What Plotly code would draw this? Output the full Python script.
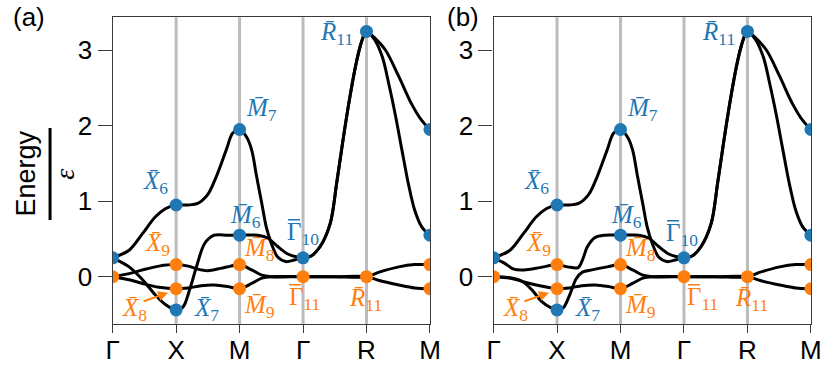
import plotly.graph_objects as go

# k-path: Γ - X - M - Γ - R - M, one unit per segment
K_TICKS = [0, 1, 2, 3, 4, 5]
K_LABELS = ["Γ", "X", "M", "Γ", "R", "M"]
E_TICKS = [0, 1, 2, 3]

# ---- panel (a) bands ----
KA_1 = [0, 0.26, 0.47, 0.67, 0.83, 1.0, 1.19, 1.34, 1.5, 1.63, 1.79, 1.89, 2.0, 2.11, 2.19, 2.27, 2.35, 2.42, 2.5,
        2.6, 2.73, 2.86, 3.0, 3.12, 3.27, 3.43, 3.53, 3.63, 3.73, 3.83, 3.9, 3.96, 4.0, 4.12, 4.3, 4.51, 4.71, 4.87, 5.0]
EA_1 = [0.25, 0.35, 0.57, 0.79, 0.9, 0.95, 0.95, 0.97, 1.09, 1.32, 1.68, 1.9, 1.95, 1.85, 1.68, 1.32, 0.97, 0.66, 0.44,
        0.26, 0.2, 0.22, 0.25, 0.27, 0.4, 0.71, 1.24, 1.81, 2.34, 2.8, 3.05, 3.2, 3.25, 3.17, 3.0, 2.65, 2.29, 2.07, 1.95]

KA_2 = [0, 0.26, 0.47, 0.67, 0.83, 1.0, 1.11, 1.21, 1.32, 1.45, 1.6, 1.81, 2.0, 2.29, 2.45, 2.6, 2.76, 2.91, 3.0,
        3.12, 3.27, 3.43, 3.53, 3.63, 3.73, 3.83, 3.9, 3.96, 4.0, 4.12, 4.25, 4.35, 4.46, 4.56, 4.66, 4.76, 4.87, 5.0]
EA_2 = [0.25, 0.13, -0.04, -0.24, -0.37, -0.44, -0.4, -0.18, 0.13, 0.44, 0.55, 0.55, 0.55, 0.55, 0.51, 0.4, 0.3, 0.26, 0.25,
        0.27, 0.4, 0.71, 1.24, 1.81, 2.34, 2.8, 3.05, 3.2, 3.25, 3.15, 2.91, 2.56, 2.12, 1.67, 1.23, 0.88, 0.66, 0.55]

KA_3 = [0, 0.26, 0.47, 0.73, 1.0, 1.19, 1.34, 1.5, 1.7, 1.86, 2.0, 2.19, 2.35, 2.5, 3.0, 3.5, 4.0, 4.2, 4.51, 4.76, 5.0]
EA_3 = [0, 0.04, 0.09, 0.14, 0.16, 0.14, 0.1, 0.08, 0.11, 0.14, 0.16, 0.09, 0.02, 0.0, 0, 0, 0, 0.06, 0.13, 0.16, 0.16]

KA_4 = [0, 0.26, 0.47, 0.73, 1.0, 1.19, 1.39, 1.6, 1.81, 2.0, 2.19, 2.35, 2.5, 3.0, 3.5, 4.0, 4.2, 4.51, 4.76, 5.0]
EA_4 = [0, -0.04, -0.09, -0.14, -0.16, -0.15, -0.12, -0.11, -0.13, -0.16, -0.09, -0.02, 0, 0, 0, 0, -0.05, -0.11, -0.15, -0.16]

# ---- panel (b) bands ----
KB_1 = KA_1
EB_1 = EA_1

KB_2 = [0, 0.17, 0.32, 0.48, 0.73, 1.0, 1.17, 1.33, 1.4, 1.48, 1.6, 1.75, 2.0, 2.29, 2.45, 2.6, 2.76, 2.91, 3.0,
        3.12, 3.27, 3.43, 3.53, 3.63, 3.73, 3.83, 3.9, 3.96, 4.0, 4.12, 4.25, 4.35, 4.46, 4.56, 4.66, 4.76, 4.87, 5.0]
EB_2 = [0.25, 0.18, 0.1, 0.09, 0.12, 0.16, 0.13, 0.12, 0.22, 0.4, 0.52, 0.55, 0.55, 0.55, 0.51, 0.4, 0.3, 0.26, 0.25,
        0.27, 0.4, 0.71, 1.24, 1.81, 2.34, 2.8, 3.05, 3.2, 3.25, 3.15, 2.91, 2.56, 2.12, 1.67, 1.23, 0.88, 0.66, 0.55]

KB_3 = [0, 0.22, 0.45, 0.61, 0.76, 0.9, 1.0, 1.1, 1.2, 1.3, 1.4, 1.55, 1.79, 2.0, 2.19, 2.35, 2.5, 3.0, 3.5, 4.0,
        4.2, 4.51, 4.76, 5.0]
EB_3 = [0, -0.01, -0.06, -0.18, -0.33, -0.41, -0.44, -0.41, -0.24, -0.03, 0.06, 0.09, 0.13, 0.16, 0.09, 0.02, 0.0, 0,
        0, 0, 0.06, 0.13, 0.16, 0.16]

KB_4 = [0, 0.27, 0.48, 0.73, 1.0, 1.19, 1.39, 1.6, 1.81, 2.0, 2.19, 2.35, 2.5, 3.0, 3.5, 4.0, 4.2, 4.51, 4.76, 5.0]
EB_4 = [0, -0.02, -0.07, -0.12, -0.16, -0.15, -0.12, -0.11, -0.13, -0.16, -0.09, -0.02, 0, 0, 0, 0, -0.05, -0.11, -0.15, -0.16]

# ---- high-symmetry states ----
BLUE_K = [0, 1, 1, 2, 2, 3, 4, 5, 5]
BLUE_E = [0.25, 0.95, -0.44, 1.95, 0.55, 0.25, 3.25, 1.95, 0.55]
ORANGE_K = [0, 1, 1, 2, 2, 3, 4, 5, 5]
ORANGE_E = [0, 0.16, -0.16, 0.16, -0.16, 0, 0, 0.16, -0.16]

# labelled states
STATE_K = [1, 1, 1, 1, 2, 2, 2, 2, 3, 3, 4, 4]
STATE_E = [0.95, 0.16, -0.16, -0.44, 1.95, 0.55, 0.16, -0.16, 0.25, 0, 3.25, 0]
STATE_LETTER = ["X", "X", "X", "X", "M", "M", "M", "M", "Γ", "Γ", "R", "R"]
STATE_SUB = ["6", "9", "8", "7", "7", "6", "8", "9", "10", "11", "11", "11"]
STATE_COLOR = ["b", "o", "o", "b", "b", "b", "o", "o", "b", "o", "b", "o"]

BLUE = "#1f77b4"
ORANGE = "#ff7f0e"
FRAME = "#3a3a3a"
GRID = "#bcbcbc"

# label offsets in pixels (dx right, dy up) per state, per panel
OFFS_A = [(-21, 22), (-19, 20), (-42, -21), (30, 0), (22, 20), (6, 19), (20, 15), (20, -18),
          (0, 24), (1, -22), (-30, -2), (-1, -23)]
OFFS_B = [(-21, 22), (-19, 20), (-42, -21), (30, 0), (22, 20), (6, 19), (20, 15), (20, -18),
          (-2, 23), (19, -22), (-29, -2), (4, -23)]

W, H = 833, 376
YR = [-0.631, 3.437]
panels = [
    dict(xa="x", ya="y", dom=[108.0 / W, 432.3 / W], bands=[(KA_1, EA_1), (KA_2, EA_2), (KA_3, EA_3), (KA_4, EA_4)],
         offs=OFFS_A, tag="(a)", tagx=22),
    dict(xa="x2", ya="y2", dom=[497.3 / W, 821.7 / W], bands=[(KB_1, EB_1), (KB_2, EB_2), (KB_3, EB_3), (KB_4, EB_4)],
         offs=OFFS_B, tag="(b)", tagx=466),
]
ydom = [1 - 324.3 / H, 1 - 17.3 / H]

fig = go.Figure()
annotations = []
shapes = []
SERIF = "Liberation Serif"
SANS = "Liberation Sans"
LABEL_SIZE = 25

for p in panels:
    for k, e in p["bands"]:
        fig.add_trace(go.Scatter(x=k, y=e, mode="lines", line=dict(color="black", width=3, shape="spline", smoothing=0.9),
                                 xaxis=p["xa"], yaxis=p["ya"], hoverinfo="skip", showlegend=False))
    fig.add_trace(go.Scatter(x=BLUE_K, y=BLUE_E, mode="markers", marker=dict(color=BLUE, size=13),
                             xaxis=p["xa"], yaxis=p["ya"], cliponaxis=True, showlegend=False))
    fig.add_trace(go.Scatter(x=ORANGE_K, y=ORANGE_E, mode="markers", marker=dict(color=ORANGE, size=13),
                             xaxis=p["xa"], yaxis=p["ya"], cliponaxis=True, showlegend=False))
    # vertical guide lines at interior high-symmetry points
    for kv in K_TICKS[1:-1]:
        shapes.append(dict(type="line", xref=p["xa"], yref=p["ya"] + " domain", x0=kv, x1=kv, y0=0, y1=1,
                           line=dict(color=GRID, width=3), layer="below"))
    for i in range(len(STATE_K)):
        letter = STATE_LETTER[i]
        color = BLUE if STATE_COLOR[i] == "b" else ORANGE
        dx, dy = p["offs"][i]
        if letter == "Γ":
            body = letter
            # bar over the upright Gamma, placed relative to the label
            left = dx - 15
            shapes.append(dict(type="line", xref=p["xa"], yref=p["ya"], xsizemode="pixel", ysizemode="pixel",
                               xanchor=STATE_K[i], yanchor=STATE_E[i], x0=left, x1=left + 12,
                               y0=dy + 14, y1=dy + 14, line=dict(color=color, width=1.4), layer="above"))
        else:
            body = "<i>" + letter + "\u0304</i>"
        annotations.append(dict(x=STATE_K[i], y=STATE_E[i], xref=p["xa"], yref=p["ya"],
                                text=body + "<sub>" + STATE_SUB[i] + "</sub>", showarrow=False,
                                xanchor="center", yanchor="middle", xshift=dx, yshift=dy,
                                font=dict(family=SERIF, size=LABEL_SIZE, color=color)))
    # pointer to the X8 state
    annotations.append(dict(x=1, y=-0.16, xref=p["xa"], yref=p["ya"], text="", showarrow=True,
                            xshift=-8, yshift=-4, ax=-26, ay=9, arrowhead=2, arrowsize=1, arrowwidth=2,
                            arrowcolor=ORANGE))
    annotations.append(dict(x=p["tagx"] / W, y=1 - 17 / H, xref="paper", yref="paper", text=p["tag"],
                            xanchor="center", yanchor="middle",
                            showarrow=False, font=dict(family=SANS, size=26, color="black")))

# y-axis title drawn as a fraction: Energy over epsilon
annotations.append(dict(x=19 / W, y=1 - 174 / H, xref="paper", yref="paper", text="Energy", textangle=-90,
                        xanchor="center", yanchor="middle",
                        showarrow=False, font=dict(family=SANS, size=27, color="black")))
annotations.append(dict(x=58 / W, y=1 - 174 / H, xref="paper", yref="paper", text="<i>ε</i>", textangle=-90,
                        xanchor="center", yanchor="middle",
                        showarrow=False, font=dict(family=SERIF, size=28, color="black")))
shapes.append(dict(type="line", xref="paper", yref="paper", x0=44 / W, x1=44 / W, y0=1 - 128 / H, y1=1 - 220 / H,
                   line=dict(color="black", width=3)))

axis_common = dict(showline=True, linecolor=FRAME, linewidth=1.3, mirror=True, ticks="outside",
                   tickcolor=FRAME, tickwidth=1.3, showgrid=False, zeroline=False,
                   tickfont=dict(family=SANS, size=26, color="black"))
layout = dict(width=W, height=H, margin=dict(l=0, r=0, t=0, b=0), plot_bgcolor="white", paper_bgcolor="white",
              annotations=annotations, shapes=shapes, showlegend=False)
for i, p in enumerate(panels):
    sfx = "" if i == 0 else "2"
    layout["xaxis" + sfx] = dict(domain=p["dom"], range=[0, 5], tickvals=K_TICKS, ticktext=K_LABELS,
                                 anchor="y" + sfx, ticklen=8, ticklabelstandoff=-6, **axis_common)
    layout["yaxis" + sfx] = dict(domain=ydom, range=YR, tickvals=E_TICKS, anchor="x" + sfx, ticklen=14,
                                 **axis_common)
fig.update_layout(**layout)
fig.write_html("out.html")
